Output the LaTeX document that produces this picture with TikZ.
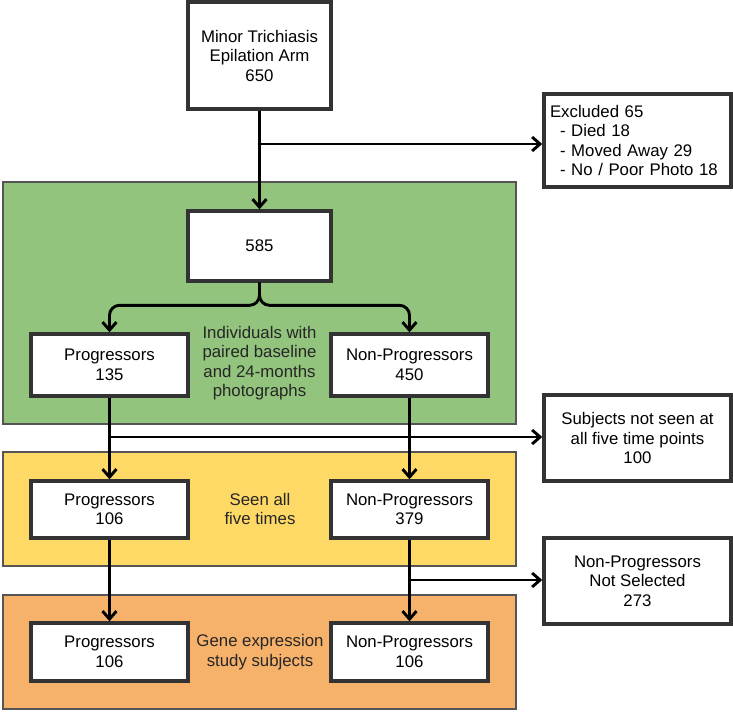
\documentclass[tikz,border=0pt]{standalone}
\usepackage{fontspec}
\setmainfont{Liberation Sans}
\usetikzlibrary{arrows.meta,calc}
\definecolor{gfill}{HTML}{93C47D}
\definecolor{yfill}{HTML}{FFD966}
\definecolor{ofill}{HTML}{F6B26B}
\definecolor{bordc}{HTML}{333333}
\definecolor{contc}{HTML}{555555}
\tikzset{
  box/.style={draw=bordc, line width=3.4pt, fill=white, align=center, inner sep=0pt,
    font=\fontsize{16.8}{19.5}\selectfont},
  cont/.style={draw=contc, line width=1.4pt},
  lbl/.style={align=center, inner sep=0pt, text=black!85, font=\fontsize{16.8}{19.5}\selectfont},
  arr/.style={line width=2.9pt, -{Straight Barb[length=8pt,width=14pt,line width=2.9pt]}},
  ln/.style={line width=2.9pt}
}
\begin{document}
\begin{tikzpicture}[x=1pt,y=-1pt]
\useasboundingbox (0,0) rectangle (733,712);
% containers
\draw[cont, fill=gfill] (3,182) rectangle (516,424);
\draw[cont, fill=yfill] (3,452) rectangle (516,566);
\draw[cont, fill=ofill] (3,595) rectangle (516,709);
% nodes
\node[box, minimum width=143pt, minimum height=107pt] (top) at (259.5,55.5) {Minor Trichiasis\\Epilation Arm\\650};
\node[box, minimum width=187pt, minimum height=93pt, align=left, text width=175pt] (exc) at (637.5,140.5)
  {Excluded 65\\\hspace*{10pt}- Died 18\\\hspace*{10pt}- Moved Away 29\\\hspace*{10pt}- No / Poor Photo 18};
\node[box, minimum width=143pt, minimum height=70pt] (n585) at (259.5,246) {585};
\node[box, minimum width=157pt, minimum height=62pt] (p135) at (109.5,365) {Progressors\\135};
\node[box, minimum width=157pt, minimum height=62pt] (np450) at (409.5,365) {Non-Progressors\\450};
\node[lbl] (glbl) at (259.5,363) {Individuals with\\paired baseline\\and 24-months\\photographs};
\node[box, minimum width=187pt, minimum height=86pt] (subj) at (637.5,438) {Subjects not seen at\\all five time points\\100};
\node[box, minimum width=157pt, minimum height=57pt] (p106a) at (109.5,509.5) {Progressors\\106};
\node[box, minimum width=157pt, minimum height=57pt] (np379) at (409.5,509.5) {Non-Progressors\\379};
\node[lbl] (ylbl) at (260,509) {Seen all\\five times};
\node[box, minimum width=187pt, minimum height=86pt] (nsel) at (637.5,581) {Non-Progressors\\Not Selected\\273};
\node[box, minimum width=157pt, minimum height=58pt] (p106b) at (109.5,652) {Progressors\\106};
\node[box, minimum width=157pt, minimum height=58pt] (np106) at (409.5,652) {Non-Progressors\\106};
\node[lbl] (olbl) at (260,652) {Gene expression\\study subjects};
% connectors
\draw[arr] (top.south) -- (n585.north);
\coordinate (b1) at (259.5,144);
\draw[arr] (b1) -- (b1 -| exc.west);
\draw[arr, rounded corners=10pt] (n585.south) |- ($(p135.north)+(0,-27)$) -- (p135.north);
\draw[arr, rounded corners=10pt] (n585.south) |- ($(np450.north)+(0,-27)$) -- (np450.north);
\draw[arr] (p135.south) -- (p106a.north);
\draw[arr] (np450.south) -- (np379.north);
\coordinate (b2) at (109.5,437);
\draw[arr] (b2) -- (b2 -| subj.west);
\draw[arr] (p106a.south) -- (p106b.north);
\draw[arr] (np379.south) -- (np106.north);
\coordinate (b3) at (409.5,580);
\draw[arr] (b3) -- (b3 -| nsel.west);
\end{tikzpicture}
\end{document}
